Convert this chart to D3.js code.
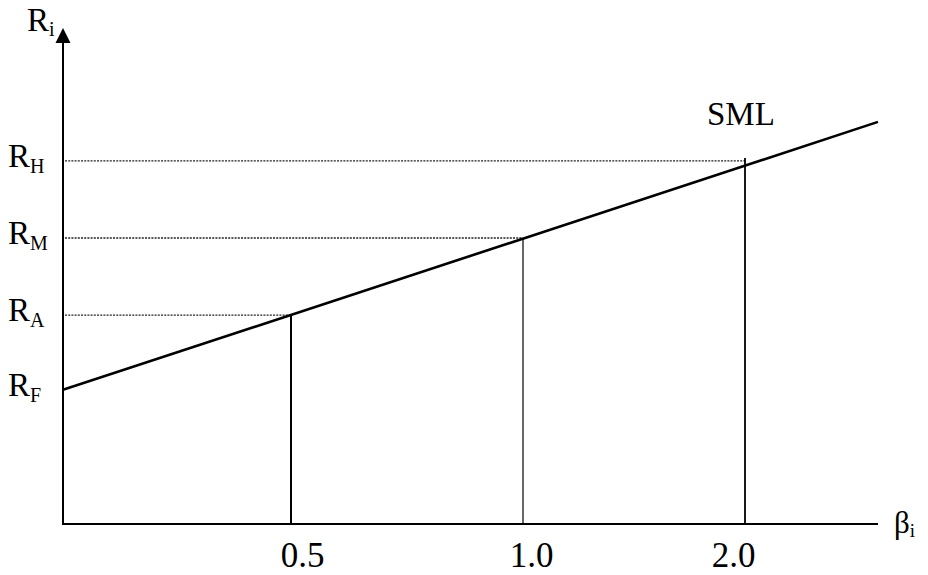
<!DOCTYPE html>
<html>
<head>
<meta charset="utf-8">
<script src="https://cdn.jsdelivr.net/npm/d3@7"></script>
<style>
  html, body { margin: 0; padding: 0; background: #fff; }
  svg { display: block; }
  text { font-family: "Liberation Serif", "Times New Roman", serif; fill: #000; }
</style>
</head>
<body>
<svg id="chart" width="928" height="575"></svg>
<script>
// ---- data (schematic units) ----
const betaValues = [0, 0.5, 1.0, 2.0];                  // beta positions (0 = origin)
const tickLabels = ["", "0.5", "1.0", "2.0"];
const returnLabels = ["F", "A", "M", "H"];              // subscripts of R
const returnValues = [4.09, 6.37, 8.72, 11.07];         // R_F, R_A, R_M, R_H
const smlEndValue = 12.26;                               // SML value at right edge of the axis
const yDomain = [0, 15];

// ---- layout ----
const W = 928, H = 575;
const x0 = 63, xAxisEnd = 878;
const yBottom = 524, yTop = 32;
const xStops = [x0, 291, 523, 745];                       // schematic (non-uniform) beta axis
const labelShift = [0, 11, 8, -12];                       // label nudges as in the original

const svg = d3.select("#chart");

const x = d3.scaleLinear().domain(betaValues).range(xStops);
const y = d3.scaleLinear().domain(yDomain).range([yBottom, yTop]);

// axes
svg.append("line")
  .attr("x1", x0).attr("x2", xAxisEnd)
  .attr("y1", y(0)).attr("y2", y(0))
  .attr("stroke", "#000").attr("stroke-width", 2.2);
svg.append("line")
  .attr("x1", x0).attr("x2", x0)
  .attr("y1", y(0) + 1).attr("y2", 40)
  .attr("stroke", "#000").attr("stroke-width", 2);
// arrow head
svg.append("path")
  .attr("d", `M${x0},28 L${x0 - 7.5},43 L${x0 + 7.5},43 Z`)
  .attr("fill", "#000");

// x tick labels via d3 axis
const xAxis = d3.axisBottom(x)
  .tickValues(betaValues.slice(1))
  .tickSize(0)
  .tickPadding(0)
  .tickFormat(d => tickLabels[betaValues.indexOf(d)]);
const gx = svg.append("g")
  .attr("transform", `translate(0,${y(0)})`)
  .call(xAxis);
gx.select(".domain").remove();
gx.selectAll("text")
  .attr("y", 43)
  .attr("dy", null)
  .attr("x", d => labelShift[betaValues.indexOf(d)])
  .style("font-family", '"Liberation Serif", "Times New Roman", serif')
  .style("font-size", "35px")
  .attr("fill", "#000");

// points on the SML
const pts = betaValues.map((b, i) => ({ b, v: returnValues[i], lab: returnLabels[i] }));

// dotted horizontal guides (for A, M, H)
svg.append("g").selectAll("line")
  .data(pts.slice(1))
  .join("line")
  .attr("x1", x0 + 2).attr("x2", d => x(d.b))
  .attr("y1", d => y(d.v)).attr("y2", d => y(d.v))
  .attr("stroke", "#222").attr("stroke-width", 1.3)
  .attr("stroke-dasharray", "2,1.2");

// vertical drop lines
svg.append("g").selectAll("line")
  .data(pts.slice(1))
  .join("line")
  .attr("x1", d => x(d.b)).attr("x2", d => x(d.b))
  .attr("y1", y(0)).attr("y2", d => y(d.v) - (d.b === 2 ? 3 : 0))
  .attr("stroke", "#000")
  .attr("stroke-width", (d, i) => [2, 1.2, 1.8][i]);

// SML line
const line = d3.line().x(d => d[0]).y(d => d[1]);
svg.append("path")
  .attr("d", line([[x(betaValues[0]), y(returnValues[0])], [xAxisEnd, y(smlEndValue)]]))
  .attr("stroke", "#000").attr("stroke-width", 2.6).attr("fill", "none");

// y labels R_x
const ylab = svg.append("g").selectAll("text")
  .data(pts)
  .join("text")
  .attr("x", 8)
  .attr("y", d => y(d.v) + 6)
  .style("font-size", "33px");
ylab.append("tspan").text("R");
ylab.append("tspan").text(d => d.lab)
  .attr("dy", 6)
  .style("font-size", "20px");

// R_i axis title
const rt = svg.append("text").attr("x", 27).attr("y", 31).style("font-size", "33px");
rt.append("tspan").text("R");
rt.append("tspan").text("i").attr("dy", 5).style("font-size", "20px");

// beta_i axis title
const bt = svg.append("text").attr("x", 894).attr("y", 533).style("font-size", "31px");
bt.append("tspan").text("β");
bt.append("tspan").text("i").attr("dy", 4).style("font-size", "19px");

// SML label
svg.append("text").attr("x", 707).attr("y", 125)
  .style("font-size", "33px").text("SML");
</script>
</body>
</html>
